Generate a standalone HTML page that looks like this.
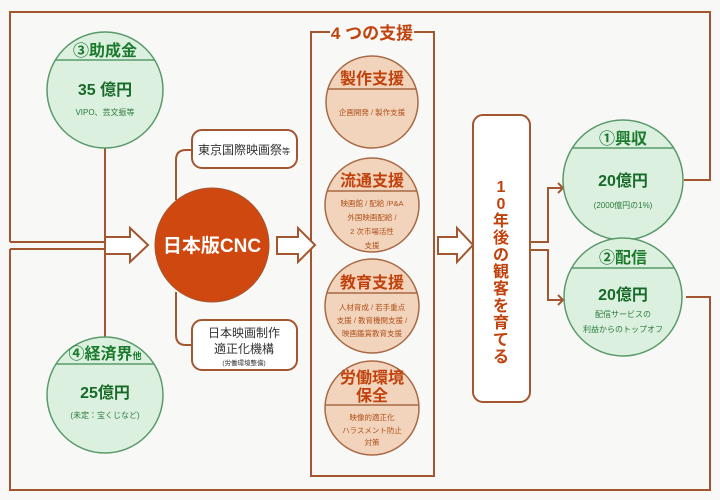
<!DOCTYPE html>
<html><head><meta charset="utf-8"><style>
html,body{margin:0;padding:0;background:#f8f8f7;}
svg{display:block;font-family:"Liberation Sans","Noto Sans CJK JP",sans-serif;}
</style></head><body>
<svg width="720" height="500" viewBox="0 0 720 500" xmlns="http://www.w3.org/2000/svg">
<rect width="720" height="500" fill="#f8f8f7"/>
<g fill="none" stroke="#a3562f" stroke-width="2">
 <polyline points="10,242 10,12 710,12 710,180 684,180"/>
 <polyline points="10,249 10,490 710,490 710,297 686,297"/>
 <line x1="10" y1="242" x2="106" y2="242"/>
 <line x1="10" y1="249" x2="106" y2="249"/>
 <line x1="105" y1="148" x2="105" y2="237"/>
 <line x1="105" y1="337" x2="105" y2="254"/>
 <path d="M176,200 L176,160 Q176,150 186,150 L192,150"/>
 <path d="M176,292 L176,335 Q176,345 186,345 L192,345"/>
 <polyline points="531,242 548,242 548,188 563,188"/>
 <polyline points="558,183 563,188 558,193"/>
 <polyline points="531,250 548,250 548,300 563,300"/>
 <polyline points="558,295 563,300 558,305"/>
 <polyline points="330,32 311,32 311,476 434,476 434,32 414,32"/>
</g>
<g fill="#fff" stroke="#a3562f" stroke-width="2">
 <polygon points="105,237 130,237 130,228 148,245 130,262 130,254 105,254"/>
 <polygon points="277,237 298,237 298,228 315,245 298,262 298,254 277,254"/>
 <polygon points="438,237 457,237 457,228 473,245 457,262 457,254 438,254"/>
</g>
<rect x="192" y="130" width="105" height="38" rx="10" fill="#fff" stroke="#a3562f" stroke-width="2"/>
<text x="244" y="154" font-size="12" text-anchor="middle" fill="#333">東京国際映画祭<tspan font-size="8">等</tspan></text>
<rect x="192" y="320" width="105" height="50" rx="10" fill="#fff" stroke="#a3562f" stroke-width="2"/>
<text x="244" y="337" font-size="12" text-anchor="middle" fill="#333">日本映画制作</text>
<text x="244" y="353" font-size="12" text-anchor="middle" fill="#333">適正化機構</text>
<text x="244" y="365" font-size="6.5" text-anchor="middle" fill="#333">(労働環境整備)</text>
<circle cx="212" cy="245" r="57" fill="#cf4810" stroke="#a3562f" stroke-width="1"/>
<text x="212" y="252" font-size="19" font-weight="bold" text-anchor="middle" fill="#fff">日本版CNC</text>
<defs>
 <clipPath id="c3"><circle cx="105" cy="90" r="58"/></clipPath>
 <clipPath id="c4"><circle cx="105" cy="395" r="58"/></clipPath>
 <clipPath id="c1"><circle cx="623" cy="180" r="60"/></clipPath>
 <clipPath id="c2"><circle cx="623" cy="297" r="59"/></clipPath>
 <clipPath id="o1"><circle cx="372" cy="102" r="46"/></clipPath>
 <clipPath id="o2"><circle cx="372" cy="205" r="47"/></clipPath>
 <clipPath id="o3"><circle cx="372" cy="306" r="47"/></clipPath>
 <clipPath id="o4"><circle cx="372" cy="408" r="47"/></clipPath>
</defs>
<g stroke="#5a9a6a" stroke-width="1.5" fill="#dcf0e0">
 <circle cx="105" cy="90" r="58"/>
 <circle cx="105" cy="395" r="58"/>
 <circle cx="623" cy="180" r="60"/>
 <circle cx="623" cy="297" r="59"/>
 <line x1="40" y1="60" x2="170" y2="60" clip-path="url(#c3)"/>
 <line x1="40" y1="364" x2="170" y2="364" clip-path="url(#c4)"/>
 <line x1="560" y1="148" x2="690" y2="148" clip-path="url(#c1)"/>
 <line x1="560" y1="268" x2="690" y2="268" clip-path="url(#c2)"/>
</g>
<g text-anchor="middle" font-weight="bold" fill="#1b7a2c">
 <text x="105" y="56" font-size="16">③助成金</text>
 <text x="105" y="95" font-size="16" fill="#176a28">35 億円</text>
 <text x="105" y="359" font-size="16">④経済界<tspan font-size="9">他</tspan></text>
 <text x="105" y="398" font-size="16" fill="#176a28">25億円</text>
 <text x="623" y="144" font-size="16">①興収</text>
 <text x="623" y="186" font-size="16" fill="#176a28">20億円</text>
 <text x="623" y="263" font-size="16">②配信</text>
 <text x="623" y="300" font-size="16" fill="#176a28">20億円</text>
</g>
<g text-anchor="middle" fill="#2a7a3a" font-size="8">
 <text x="105" y="115">VIPO、芸文振等</text>
 <text x="105" y="418">(未定：宝くじなど)</text>
 <text x="623" y="208">(2000億円の1%)</text>
 <text x="623" y="317">配信サービスの</text>
 <text x="623" y="332">利益からのトップオフ</text>
</g>
<g stroke="#a86a45" stroke-width="1.5" fill="#f2d3bb">
 <circle cx="372" cy="102" r="46"/>
 <circle cx="372" cy="205" r="47"/>
 <circle cx="372" cy="306" r="47"/>
 <circle cx="372" cy="408" r="47"/>
 <line x1="320" y1="89" x2="425" y2="89" clip-path="url(#o1)"/>
 <line x1="320" y1="191" x2="425" y2="191" clip-path="url(#o2)"/>
 <line x1="320" y1="293" x2="425" y2="293" clip-path="url(#o3)"/>
 <line x1="320" y1="405" x2="425" y2="405" clip-path="url(#o4)"/>
</g>
<g text-anchor="middle" font-weight="bold" fill="#c0420c" font-size="16">
 <text x="372" y="39" font-size="17">4 つの支援</text>
 <text x="372" y="84">製作支援</text>
 <text x="372" y="186">流通支援</text>
 <text x="372" y="288">教育支援</text>
 <text x="372" y="383">労働環境</text>
 <text x="372" y="401">保全</text>
</g>
<g text-anchor="middle" fill="#b0501a" font-size="7.5">
 <text x="372" y="115">企画開発 / 製作支援</text>
 <text x="372" y="206">映画館 / 配給 /P&amp;A</text>
 <text x="372" y="220">外国映画配給 /</text>
 <text x="372" y="234">2 次市場活性</text>
 <text x="372" y="248">支援</text>
 <text x="372" y="310">人材育成 / 若手重点</text>
 <text x="372" y="323">支援 / 教育機関支援 /</text>
 <text x="372" y="336">映画鑑賞教育支援</text>
 <text x="372" y="420">映像的適正化</text>
 <text x="372" y="433">ハラスメント防止</text>
 <text x="372" y="445">対策</text>
</g>
<rect x="473" y="115" width="57" height="287" rx="10" fill="#fff" stroke="#a3562f" stroke-width="2"/>
<g text-anchor="middle" font-weight="bold" fill="#c0420c" font-size="16">
 <text x="501" y="192">1</text>
 <text x="501" y="209">0</text>
 <text x="501" y="226">年</text>
 <text x="501" y="243">後</text>
 <text x="501" y="260">の</text>
 <text x="501" y="277">観</text>
 <text x="501" y="294">客</text>
 <text x="501" y="311">を</text>
 <text x="501" y="328">育</text>
 <text x="501" y="345">て</text>
 <text x="501" y="362">る</text>
</g>
</svg>
</body></html>
